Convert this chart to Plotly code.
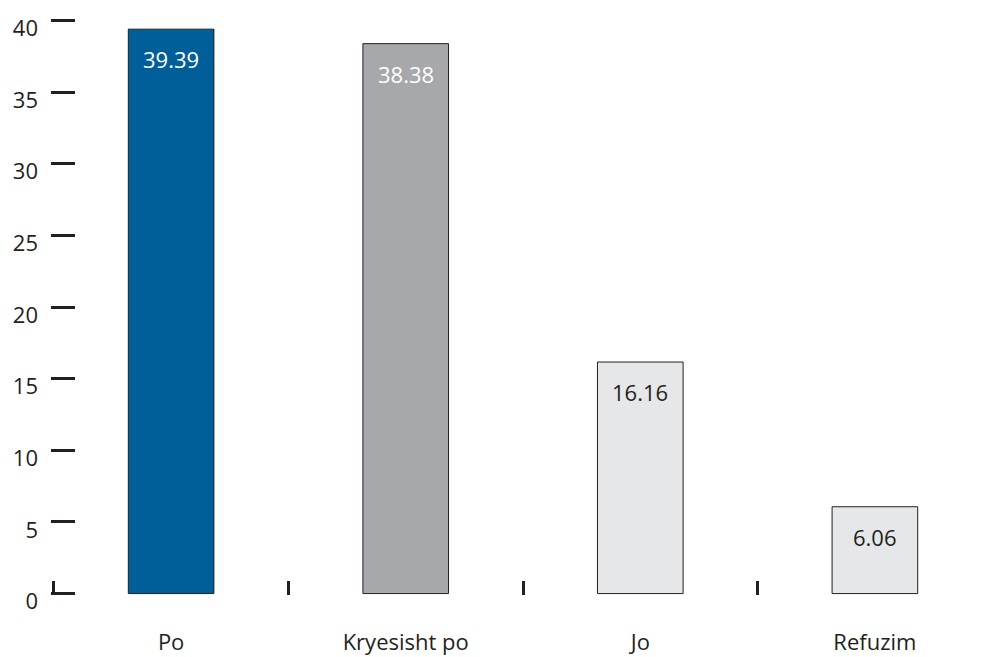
import plotly.graph_objects as go

categories = ["Po", "Kryesisht po", "Jo", "Refuzim"]
values = [39.39, 38.38, 16.16, 6.06]
bar_colors = ["#005f99", "#a7a8ac", "#e6e7e9", "#e6e7e9"]
text_colors = ["#ffffff", "#ffffff", "#231f20", "#231f20"]
y_ticks = [0, 5, 10, 15, 20, 25, 30, 35, 40]

FONT = "Open Sans, Noto Sans, sans-serif"

fig = go.Figure()
fig.add_trace(go.Bar(
    x=categories, y=values,
    marker=dict(color=bar_colors, line=dict(color="#231f20", width=1)),
    width=0.365,
    hoverinfo="x+y",
))

for c, v, tc in zip(categories, values, text_colors):
    fig.add_annotation(
        x=c, y=v, text=f"{v:.2f}", showarrow=False,
        yanchor="top", yshift=-13,
        font=dict(family=FONT, size=22, color=tc),
    )

# page body has an 8px default margin; compensate so the plot sits where the reference does
fig.update_layout(
    width=987, height=649,
    margin=dict(l=43, r=0, t=11, b=62),
    paper_bgcolor="white", plot_bgcolor="white",
    showlegend=False,
    font=dict(family=FONT, size=22, color="#231f20"),
    xaxis=dict(
        automargin=False,
        range=[-0.512, 3.512],
        showgrid=False, zeroline=False, showline=False,
        ticks="inside", tickson="boundaries", ticklen=14, tickwidth=2.5,
        tickcolor="#231f20",
        ticklabelstandoff=32,
        tickfont=dict(family=FONT, size=22, color="#231f20"),
    ),
    yaxis=dict(
        automargin=False,
        range=[-0.1, 40.1], tickvals=y_ticks,
        showgrid=False, zeroline=False, showline=False,
        ticks="inside", ticklen=24, tickwidth=2.5, tickcolor="#231f20",
        ticklabelshift=8, ticklabelstandoff=12,
        tickfont=dict(family=FONT, size=22, color="#231f20"),
    ),
)

fig.write_html("out.html")
